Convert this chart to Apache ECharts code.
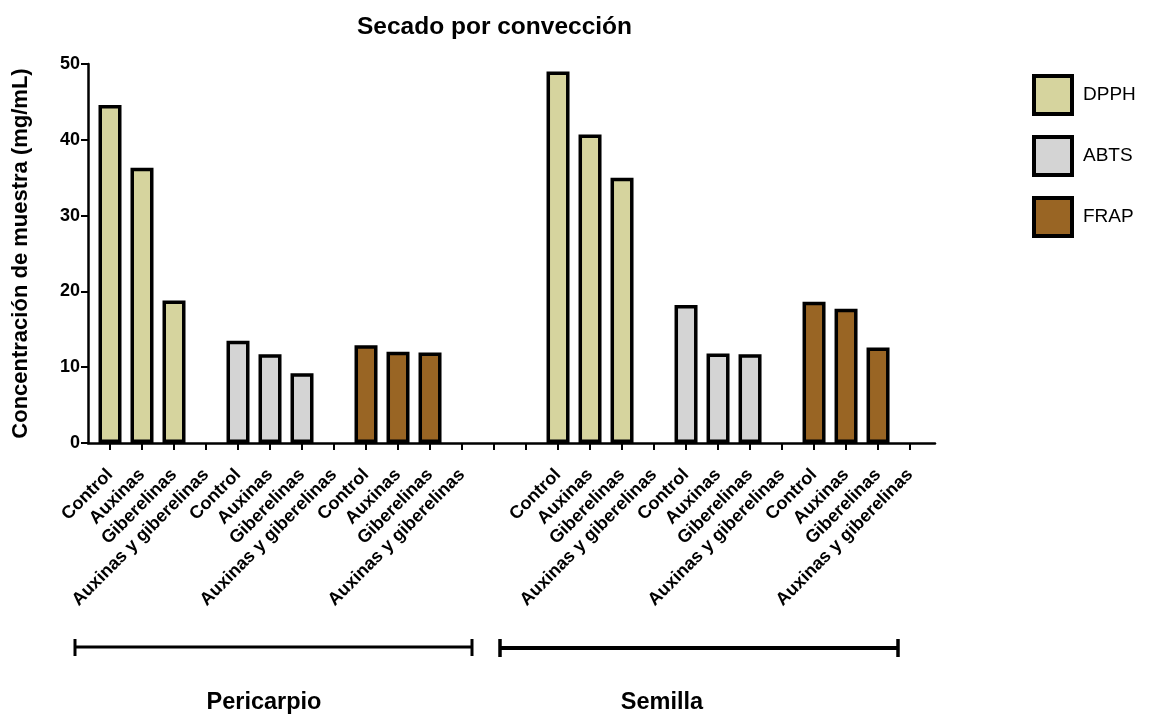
<!DOCTYPE html>
<html>
<head>
<meta charset="utf-8">
<title>Secado por convección</title>
<script src="https://cdn.jsdelivr.net/npm/echarts@6/dist/echarts.min.js"></script>
<style>
  html, body { margin: 0; padding: 0; background: #ffffff; }
  #chart { width: 1156px; height: 715px; }
</style>
</head>
<body>
<div id="chart"></div>
<script>
// Treatments, repeated for each assay inside each tissue block
const treatments = ['Control', 'Auxinas', 'Giberelinas', 'Auxinas y giberelinas'];
const assays = ['DPPH', 'ABTS', 'FRAP'];
const tissues = ['Pericarpio', 'Semilla'];

// Concentración de muestra (mg/mL), one value per treatment (null = not measured)
const dpphPericarpio = [44.6, 36.3, 18.8, null];
const abtsPericarpio = [13.5, 11.7, 9.2, null];
const frapPericarpio = [12.9, 12.05, 11.95, null];
const dpphSemilla = [49.0, 40.7, 35.0, null];
const abtsSemilla = [18.2, 11.8, 11.7, null];
const frapSemilla = [18.65, 17.7, 12.6, null];

const yTicks = [0, 10, 20, 30, 40, 50];
const assayColors = ['#d6d49e', '#d4d4d4', '#996524'];

// Slot layout on the x axis: 12 slots per tissue, two empty slots between tissues
const slotsPerTissue = treatments.length * assays.length;
const tissueGap = 2;
const tissueStart = [0, slotsPerTissue + tissueGap];
const totalSlots = slotsPerTissue * 2 + tissueGap;

const slotLabels = {};
tissueStart.forEach(function (start) {
  assays.forEach(function (a, ai) {
    treatments.forEach(function (t, ti) {
      slotLabels[start + ai * treatments.length + ti] = t;
    });
  });
});
const tickSlots = [];
for (let i = 0; i < totalSlots; i++) tickSlots.push(i);
const labelSlots = tickSlots.filter(function (i) { return slotLabels[i] !== undefined; });

const valuesByAssay = [
  [dpphPericarpio, dpphSemilla],
  [abtsPericarpio, abtsSemilla],
  [frapPericarpio, frapSemilla]
];

function seriesData(ai) {
  const out = [];
  valuesByAssay[ai].forEach(function (vals, tIdx) {
    vals.forEach(function (v, ti) {
      if (v !== null) out.push([tissueStart[tIdx] + ai * treatments.length + ti, v]);
    });
  });
  return out;
}

const FONT = '"Liberation Sans", Arial, Helvetica, sans-serif';

const chart = echarts.init(document.getElementById('chart'), null, { renderer: 'canvas' });

const series = assays.map(function (name, ai) {
  return {
    name: name,
    type: 'bar',
    data: seriesData(ai),
    barWidth: 23,
    barGap: '-100%',
    itemStyle: { color: assayColors[ai], borderColor: '#000000', borderWidth: 3.5 },
    emphasis: { disabled: true },
    animation: false
  };
});

chart.setOption({
  animation: false,
  backgroundColor: '#ffffff',
  title: {
    text: 'Secado por convección',
    left: 352,
    top: 10,
    textStyle: { fontFamily: FONT, fontSize: 24.5, fontWeight: 'bold', color: '#000000' }
  },
  legend: {
    orient: 'vertical',
    left: 1027,
    top: 69,
    icon: 'rect',
    itemWidth: 38,
    itemHeight: 38,
    itemGap: 19,
    itemStyle: { borderColor: '#000000', borderWidth: 4 },
    textStyle: { fontFamily: FONT, fontSize: 19, color: '#000000', padding: [0, 0, 0, 6] },
    data: assays
  },
  grid: {
    left: 88,
    right: 221,
    top: 64,
    bottom: 272,
    outerBoundsMode: 'none'
  },
  xAxis: {
    type: 'value',
    min: -0.6875,
    max: totalSlots - 1 + 0.78,
    splitLine: { show: false },
    axisLine: { show: true, onZero: false, lineStyle: { color: '#000000', width: 2.5 } },
    axisTick: {
      show: true,
      customValues: tickSlots,
      length: 7,
      lineStyle: { color: '#000000', width: 2 }
    },
    axisLabel: {
      customValues: labelSlots,
      formatter: function (v) { return slotLabels[Math.round(v)] || ''; },
      rotate: 45,
      margin: 29,
      fontFamily: FONT,
      fontSize: 18,
      fontWeight: 'bold',
      color: '#000000'
    }
  },
  yAxis: {
    type: 'value',
    min: yTicks[0],
    max: yTicks[yTicks.length - 1],
    interval: 10,
    name: 'Concentración de muestra (mg/mL)',
    nameLocation: 'middle',
    nameGap: 56,
    nameTextStyle: { fontFamily: FONT, fontSize: 22, fontWeight: 'bold', color: '#000000' },
    splitLine: { show: false },
    axisLine: { show: true, onZero: false, lineStyle: { color: '#000000', width: 2.5 } },
    axisTick: { show: true, length: 7, lineStyle: { color: '#000000', width: 2 } },
    axisLabel: {
      margin: 8,
      fontFamily: FONT,
      fontSize: 18,
      fontWeight: 'bold',
      color: '#000000'
    }
  },
  series: series,
  graphic: [
    // Tissue brackets under the axis labels
    {
      type: 'group',
      children: [
        { type: 'line', shape: { x1: 75, y1: 647, x2: 472, y2: 647 }, style: { stroke: '#000', lineWidth: 3 } },
        { type: 'line', shape: { x1: 75, y1: 639, x2: 75, y2: 656 }, style: { stroke: '#000', lineWidth: 3 } },
        { type: 'line', shape: { x1: 472, y1: 639, x2: 472, y2: 656 }, style: { stroke: '#000', lineWidth: 3 } },
        { type: 'line', shape: { x1: 500, y1: 648, x2: 898, y2: 648 }, style: { stroke: '#000', lineWidth: 4 } },
        { type: 'line', shape: { x1: 500, y1: 639, x2: 500, y2: 657 }, style: { stroke: '#000', lineWidth: 3.5 } },
        { type: 'line', shape: { x1: 898, y1: 639, x2: 898, y2: 657 }, style: { stroke: '#000', lineWidth: 3.5 } }
      ]
    },
    {
      type: 'text',
      x: 264, y: 703,
      style: {
        text: tissues[0], fill: '#000', font: 'bold 23.5px ' + FONT,
        textAlign: 'center', textVerticalAlign: 'middle'
      }
    },
    {
      type: 'text',
      x: 662, y: 703,
      style: {
        text: tissues[1], fill: '#000', font: 'bold 23.5px ' + FONT,
        textAlign: 'center', textVerticalAlign: 'middle'
      }
    }
  ]
});
</script>
</body>
</html>
